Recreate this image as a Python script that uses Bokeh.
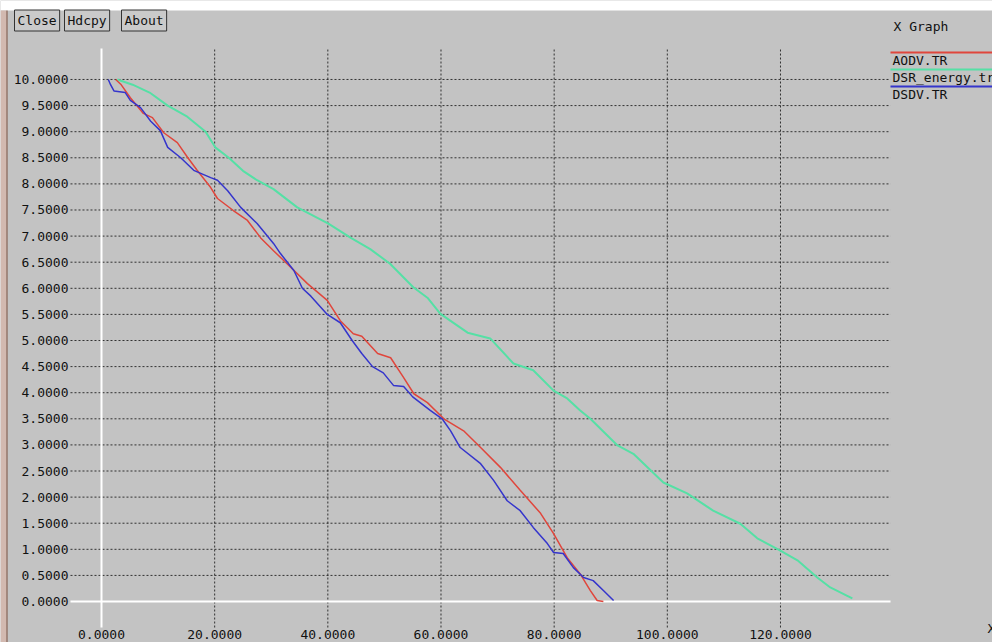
from bokeh.plotting import figure
from bokeh.models import Range1d, Label, BoxAnnotation
from bokeh.core.properties import value
from bokeh.embed import file_html
from bokeh.resources import INLINE

# ---- data ----
aodv_x = [2.5, 3.4, 5.1, 7.4, 9.0, 11.0, 13.4, 15.2, 16.9, 19.3, 20.5, 23.3, 25.8, 28.1,
          30.4, 32.8, 36.4, 39.9, 42.2, 44.5, 46.0, 48.8, 51.1, 53.4, 55.2, 57.6, 60.5,
          64.0, 67.0, 70.5, 74.0, 77.6, 79.9, 82.3, 84.6, 86.4, 87.6, 88.7]
aodv_y = [10.0, 9.91, 9.65, 9.35, 9.27, 8.98, 8.79, 8.51, 8.26, 7.93, 7.72, 7.49, 7.30, 6.97,
          6.72, 6.47, 6.09, 5.77, 5.38, 5.13, 5.08, 4.75, 4.67, 4.29, 3.98, 3.81, 3.50,
          3.27, 2.95, 2.57, 2.13, 1.69, 1.30, 0.84, 0.53, 0.21, 0.02, 0.0]

dsr_x = [2.8, 5.5, 8.5, 11.7, 15.0, 18.4, 20.1, 22.5, 25.0, 27.5, 30.4, 34.6, 40.1, 44.0,
         47.5, 51.0, 55.1, 57.6, 59.9, 64.7, 68.7, 72.8, 76.3, 79.9, 82.3, 84.6, 86.4,
         91.2, 94.0, 99.3, 103.5, 108.1, 112.9, 115.9, 119.9, 123.0, 126.5, 128.8, 131.8,
         132.7]
dsr_y = [10.0, 9.9, 9.75, 9.5, 9.3, 9.0, 8.7, 8.5, 8.25, 8.07, 7.9, 7.55, 7.24, 6.97,
         6.75, 6.47, 6.02, 5.82, 5.51, 5.15, 5.04, 4.56, 4.43, 4.04, 3.89, 3.66, 3.5,
         2.99, 2.83, 2.28, 2.07, 1.74, 1.49, 1.21, 0.98, 0.79, 0.46, 0.27, 0.11, 0.06]

dsdv_x = [1.2, 1.6, 2.2, 4.2, 5.1, 6.9, 8.7, 10.4, 11.7, 14.0, 16.3, 19.3, 20.5, 22.3,
          24.6, 27.5, 30.4, 31.6, 34.0, 35.5, 37.0, 39.9, 42.2, 44.3, 46.0, 47.9, 49.8,
          51.6, 53.4, 55.0, 58.1, 60.2, 61.7, 63.4, 67.0, 69.3, 71.7, 74.0, 76.3, 78.8,
          79.9, 81.6, 83.4, 85.2, 86.9, 88.7, 90.5]
dsdv_y = [10.0, 9.9, 9.78, 9.75, 9.6, 9.46, 9.2, 9.02, 8.7, 8.5, 8.26, 8.12, 8.07, 7.87,
          7.55, 7.24, 6.86, 6.67, 6.34, 6.0, 5.85, 5.5, 5.34, 5.0, 4.75, 4.5, 4.38,
          4.14, 4.12, 3.92, 3.66, 3.5, 3.27, 2.95, 2.64, 2.32, 1.93, 1.74, 1.42, 1.11,
          0.94, 0.92, 0.65, 0.46, 0.4, 0.21, 0.02]

x_ticks = [0, 20, 40, 60, 80, 100, 120]
y_ticks = [0, 0.5, 1.0, 1.5, 2.0, 2.5, 3.0, 3.5, 4.0, 4.5, 5.0, 5.5, 6.0, 6.5, 7.0,
           7.5, 8.0, 8.5, 9.0, 9.5, 10.0]

series_names = ["AODV.TR", "DSR_energy.tr", "DSDV.TR"]
buttons = ["Close", "Hdcpy", "About"]
title_text = "X Graph"
x_axis_name = "X"

# ---- styling / layout constants ----
W, H = 992, 642
BG = "#c3c3c3"
FONT = "DejaVu Sans Mono"
FS = "13px"
TXT = "#111111"
RED = "#e0463c"
GREEN = "#55e0a5"
BLUE = "#3535cc"
# extent of the plotting grid, in data units
GX0, GX1 = -5.48, 139.45
GY0, GY1 = -0.498, 10.594

p = figure(width=W, height=H, output_backend="svg", toolbar_location=None,
           x_range=Range1d(-17.85, 157.47), y_range=Range1d(-0.785, 11.513),
           x_axis_type=None, y_axis_type=None, min_border=0)
p.background_fill_color = BG
p.border_fill_color = BG
p.outline_line_color = None
p.xgrid.visible = False
p.ygrid.visible = False

# window chrome: white strip at top, brownish left edge
p.add_layout(BoxAnnotation(left=0, right=W, top=H, bottom=H - 10, left_units="screen",
                           right_units="screen", top_units="screen",
                           bottom_units="screen", fill_color="white", fill_alpha=1,
                           line_color=None))
p.add_layout(BoxAnnotation(left=0, right=6, top=H - 10, bottom=0, left_units="screen",
                           right_units="screen", top_units="screen",
                           bottom_units="screen", fill_color="#d2b9b0", fill_alpha=1,
                           line_color=None))
p.add_layout(BoxAnnotation(left=6, right=7, top=H - 10, bottom=0, left_units="screen",
                           right_units="screen", top_units="screen",
                           bottom_units="screen", fill_color="#7d5040", fill_alpha=1,
                           line_color=None))

# dotted grid lines (skip zero, which is drawn white)
gx = [t for t in x_ticks if t != 0]
gy = [t for t in y_ticks if t != 0]
p.segment(x0=gx, x1=gx, y0=[GY0] * len(gx), y1=[GY1] * len(gx),
          line_color="#222222", line_dash="2 2", line_width=1, line_alpha=0.9)
p.segment(x0=[GX0] * len(gy), x1=[GX1] * len(gy), y0=gy, y1=gy,
          line_color="#222222", line_dash="2 2", line_width=1, line_alpha=0.9)
# white zero lines
p.segment(x0=[0], x1=[0], y0=[GY0], y1=[GY1], line_color="white", line_width=2)
p.segment(x0=[GX0], x1=[GX1], y0=[0], y1=[0], line_color="white", line_width=2)

# tick labels
p.text(x=[GX0] * len(y_ticks), y=y_ticks, text=[f"{t:.4f}" for t in y_ticks],
       text_font=value(FONT), text_font_size=FS, text_color=TXT,
       text_align="right", text_baseline="middle", x_offset=-2)
p.text(x=x_ticks, y=[GY0] * len(x_ticks), text=[f"{t:.4f}" for t in x_ticks],
       text_font=value(FONT), text_font_size=FS, text_color=TXT,
       text_align="center", text_baseline="top", y_offset=2)

# data lines
p.line(dsr_x, dsr_y, line_color=GREEN, line_width=2)
p.line(aodv_x, aodv_y, line_color=RED, line_width=1.5)
p.line(dsdv_x, dsdv_y, line_color=BLUE, line_width=1.5)

# ---- decorations (screen units, y measured from the bottom) ----
def lab(text, sx, sy, **kw):
    p.add_layout(Label(x=sx, y=H - sy, x_units="screen", y_units="screen",
                       text=text, text_font=FONT, text_font_size=FS,
                       text_color=TXT, text_align="left",
                       text_baseline="middle", **kw))

bx = [14, 64, 121]
for b, x0 in zip(buttons, bx):
    lab(b, x0, 20, border_line_color="#333333", border_line_width=1,
        background_fill_color="#cacaca", padding=3)

lab(title_text, 893, 26)
lab(x_axis_name, 987, 628)
colors = [RED, GREEN, BLUE]
for i, (nm, c) in enumerate(zip(series_names, colors)):
    ly = 52 + 17 * i
    p.add_layout(BoxAnnotation(left=890, right=W, top=H - ly + 1, bottom=H - ly - 1,
                               left_units="screen", right_units="screen",
                               top_units="screen", bottom_units="screen",
                               fill_color=c, fill_alpha=1, line_color=None))
    lab(nm, 892, ly + 8)

open("out.html", "w").write(file_html(p, INLINE))
